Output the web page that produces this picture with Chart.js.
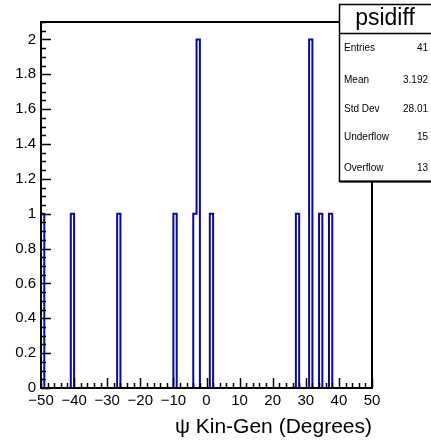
<!DOCTYPE html>
<html>
<head>
<meta charset="utf-8">
<style>
  html, body { margin: 0; padding: 0; background: #fff; }
  canvas { display: block; }
</style>
<script src="https://cdn.jsdelivr.net/npm/chart.js@4/dist/chart.umd.min.js"></script>
</head>
<body>
<canvas id="c" width="431" height="440"></canvas>
<script>
// Histogram "psidiff": 100 bins of 1 degree from -50 to 50
const binLow = -50;
const binWidth = 1;
const nBins = 100;
// bins with entries (lower edge -> count); every other bin is empty
const filledBinEdges = [-50, -49, -40, -26, -9, -3, -2, 2, 28, 32, 35, 38];
const filledBinCounts = [1, 1, 1, 1, 1, 1, 2, 1, 1, 2, 1, 1];

const xTickLabels = [-50, -40, -30, -20, -10, 0, 10, 20, 30, 40, 50];
const yTickLabels = [0, 0.2, 0.4, 0.6, 0.8, 1, 1.2, 1.4, 1.6, 1.8, 2];

const statLabels = ['Entries', 'Mean', 'Std Dev', 'Underflow', 'Overflow'];
const statValues = ['41', '3.192', '28.01', '15', '13'];
const histName = 'psidiff';
const xTitle = 'ψ Kin-Gen (Degrees)';

// full bin contents
const counts = new Array(nBins).fill(0);
filledBinEdges.forEach((e, i) => {
  counts[Math.round((e - binLow) / binWidth)] = filledBinCounts[i];
});
// step outline points at bin lower edges, closed at the upper edge
const outline = counts.map((c, i) => ({ x: binLow + i * binWidth, y: c }));
outline.push({ x: binLow + nBins * binWidth, y: 0 });

const FONT = '"Liberation Sans", Arial, Helvetica, sans-serif';

// frame, inward tick marks, axis title and the statistics box
const rootFrame = {
  id: 'rootFrame',
  afterDatasetsDraw(chart) {
    const { ctx, chartArea: a, scales: { x, y } } = chart;
    ctx.save();
    ctx.strokeStyle = '#000';
    ctx.lineWidth = 1.5;
    ctx.beginPath();
    // x ticks: major every 10, minor every 2
    for (let v = -50; v <= 50; v += 2) {
      const px = Math.round(x.getPixelForValue(v)) + 0.5;
      const len = (v % 10 === 0) ? 10 : 5;
      ctx.moveTo(px, a.bottom);
      ctx.lineTo(px, a.bottom - len);
    }
    // y ticks: major every 0.2, minor every 0.05
    for (let k = 0; k <= 42; k++) {
      const v = k * 0.05;
      if (v > 2.1 + 1e-9) break;
      const py = Math.round(y.getPixelForValue(v)) + 0.5;
      const len = (k % 4 === 0) ? 10 : 5;
      ctx.moveTo(a.left, py);
      ctx.lineTo(a.left + len, py);
    }
    ctx.stroke();
    ctx.lineWidth = 2;
    ctx.strokeRect(a.left, a.top, a.right - a.left, a.bottom - a.top);

    // x axis title, right-aligned with the axis end
    ctx.fillStyle = '#000';
    ctx.font = '21px ' + FONT;
    ctx.textAlign = 'right';
    ctx.textBaseline = 'alphabetic';
    ctx.fillText(xTitle, a.right, 433);

    // statistics box
    const bx = 339.5, by = 4.5, bw = 95, bh = 177;
    ctx.fillStyle = '#fff';
    ctx.fillRect(bx, by, bw, bh);
    ctx.lineWidth = 1.5;
    ctx.strokeRect(bx, by, bw, bh);
    ctx.lineWidth = 2;
    ctx.beginPath();
    ctx.moveTo(bx, by + bh);
    ctx.lineTo(bx + bw, by + bh);
    ctx.stroke();
    ctx.lineWidth = 1.5;
    ctx.beginPath();
    ctx.moveTo(bx, 33.5);
    ctx.lineTo(bx + bw, 33.5);
    ctx.stroke();
    ctx.fillStyle = '#000';
    ctx.font = '23px ' + FONT;
    ctx.textAlign = 'center';
    ctx.textBaseline = 'middle';
    ctx.fillText(histName, 385, 19);
    ctx.font = '10px ' + FONT;
    const rowY = [48, 80, 109, 137, 168];
    statLabels.forEach((s, i) => {
      ctx.textAlign = 'left';
      ctx.fillText(s, 344, rowY[i]);
      ctx.textAlign = 'right';
      ctx.fillText(statValues[i], 428, rowY[i]);
    });
    ctx.restore();
  }
};

new Chart(document.getElementById('c'), {
  type: 'line',
  data: {
    datasets: [{
      data: outline,
      stepped: 'after',
      borderColor: '#0a0a9a',
      borderWidth: 2,
      pointRadius: 0,
      fill: false,
      tension: 0
    }]
  },
  options: {
    responsive: false,
    animation: false,
    events: [],
    layout: { padding: { left: 0, right: 59, top: 22, bottom: 0 } },
    plugins: { legend: { display: false }, tooltip: { enabled: false }, title: { display: false } },
    scales: {
      x: {
        type: 'linear',
        min: -50,
        max: 50,
        afterBuildTicks: s => { s.ticks = xTickLabels.map(v => ({ value: v })); },
        afterFit: s => { s.height = 52; },
        grid: { display: false, drawTicks: false },
        border: { display: false },
        ticks: {
          autoSkip: false,
          maxRotation: 0,
          padding: 4,
          color: '#000',
          font: { family: FONT, size: 15 },
          callback: v => (v < 0 ? '\u2212' + Math.abs(v) : String(v))
        }
      },
      y: {
        type: 'linear',
        min: 0,
        max: 2.1,
        afterBuildTicks: s => { s.ticks = yTickLabels.map(v => ({ value: v })); },
        afterFit: s => { s.width = 41; },
        grid: { display: false, drawTicks: false },
        border: { display: false },
        ticks: {
          autoSkip: false,
          padding: 5,
          color: '#000',
          font: { family: FONT, size: 15 },
          callback: v => String(+v.toFixed(1))
        }
      }
    }
  },
  plugins: [rootFrame]
});
</script>
</body>
</html>
